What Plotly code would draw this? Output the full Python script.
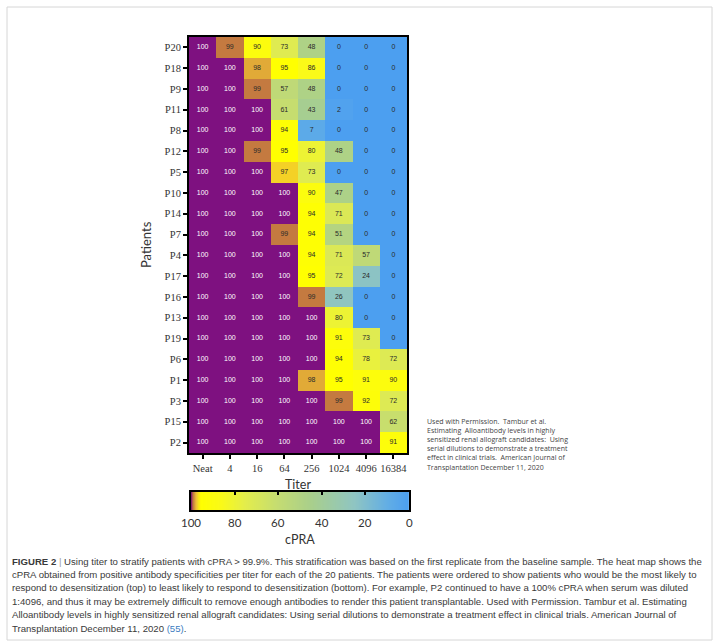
import numpy as np
import plotly.graph_objects as go

W, H = 716, 642

# ---- data -------------------------------------------------------------
titers = ["Neat", "4", "16", "64", "256", "1024", "4096", "16384"]
patients = ["P20", "P18", "P9", "P11", "P8", "P12", "P5", "P10", "P14", "P7",
            "P4", "P17", "P16", "P13", "P19", "P6", "P1", "P3", "P15", "P2"]

# cPRA (%) per titer, one value per patient in the order above
cpra_neat = [100, 100, 100, 100, 100, 100, 100, 100, 100, 100,
             100, 100, 100, 100, 100, 100, 100, 100, 100, 100]
cpra_4 = [99, 100, 100, 100, 100, 100, 100, 100, 100, 100,
          100, 100, 100, 100, 100, 100, 100, 100, 100, 100]
cpra_16 = [90, 98, 99, 100, 100, 99, 100, 100, 100, 100,
           100, 100, 100, 100, 100, 100, 100, 100, 100, 100]
cpra_64 = [73, 95, 57, 61, 94, 95, 97, 100, 100, 99,
           100, 100, 100, 100, 100, 100, 100, 100, 100, 100]
cpra_256 = [48, 86, 48, 43, 7, 80, 73, 90, 94, 94,
            94, 95, 99, 100, 100, 100, 98, 100, 100, 100]
cpra_1024 = [0, 0, 0, 2, 0, 48, 0, 47, 71, 51,
             71, 72, 26, 80, 91, 94, 95, 99, 100, 100]
cpra_4096 = [0, 0, 0, 0, 0, 0, 0, 0, 0, 0,
             57, 24, 0, 0, 73, 78, 91, 92, 100, 100]
cpra_16384 = [0, 0, 0, 0, 0, 0, 0, 0, 0, 0,
              0, 0, 0, 0, 0, 72, 90, 72, 62, 91]

colorbar_ticks = [100, 80, 60, 40, 20, 0]

permission_lines = [
    "Used with Permission.  Tambur et al.",
    "Estimating  Alloantibody levels in highly",
    "sensitized renal allograft candidates:  Using",
    "serial dilutions to demonstrate a treatment",
    "effect in clinical trials.  American Journal of",
    "Transplantation December 11, 2020",
]

caption_lines = [
    "<b>FIGURE 2</b> <span style='color:#999'>|</span> Using titer to stratify patients with cPRA &gt; 99.9%. "
    "This stratification was based on the first replicate from the baseline sample. The heat map shows the",
    "cPRA obtained from positive antibody specificities per titer for each of the 20 patients. "
    "The patients were ordered to show patients who would be the most likely to",
    "respond to desensitization (top) to least likely to respond to desensitization (bottom). "
    "For example, P2 continued to have a 100% cPRA when serum was diluted",
    "1:4096, and thus it may be extremely difficult to remove enough antibodies to render this "
    "patient transplantable. Used with Permission. Tambur et al. Estimating",
    "Alloantibody levels in highly sensitized renal allograft candidates: Using serial dilutions "
    "to demonstrate a treatment effect in clinical trials. American Journal of",
    "Transplantation December 11, 2020 <span style='color:#3a7bbf'>(55)</span>.",
]

# ---- helpers ----------------------------------------------------------
def px_x(x):
    return x / W


def px_y(y):
    return 1 - y / H


z = np.column_stack([cpra_neat, cpra_4, cpra_16, cpra_64,
                     cpra_256, cpra_1024, cpra_4096, cpra_16384])

colorscale = [
    [0.00, "#4c9ff0"],
    [0.10, "#63aee4"],
    [0.25, "#8fc5c2"],
    [0.45, "#a9cf8b"],
    [0.60, "#c4dc72"],
    [0.75, "#e3ed4c"],
    [0.86, "#fafa18"],
    [0.955, "#ffff00"],
    [0.975, "#f0c232"],
    [0.99, "#c47a40"],
    [0.997, "#8a2a62"],
    [1.00, "#7e1180"],
]

SERIF = "Liberation Serif"
SANS = "Lato"
TXT = "#333333"

fig = go.Figure()

# heat map of cPRA per patient and titer
fig.add_trace(go.Heatmap(
    z=z, x=titers, y=patients,
    colorscale=colorscale, zmin=0, zmax=100,
    showscale=False, hoverinfo="skip",
    xaxis="x", yaxis="y",
))

# value printed inside every cell
xs, ys, labels, colors = [], [], [], []
for i, p in enumerate(patients):
    for j, t in enumerate(titers):
        v = int(z[i, j])
        xs.append(t)
        ys.append(p)
        labels.append(str(v))
        colors.append("#ffffff" if v >= 100 else "#2a2a2a")
fig.add_trace(go.Scatter(
    x=xs, y=ys, text=labels, mode="text",
    textposition="middle center",
    textfont=dict(family="Liberation Sans", size=7, color=colors),
    hoverinfo="skip", showlegend=False,
    xaxis="x", yaxis="y",
))

# horizontal colour key, 100 on the left and 0 on the right
scale_steps = np.linspace(0, 100, 801)
fig.add_trace(go.Heatmap(
    z=[scale_steps], x=scale_steps, y=[0],
    colorscale=colorscale, zmin=0, zmax=100,
    showscale=False, hoverinfo="skip",
    xaxis="x2", yaxis="y2",
))

axis_common = dict(
    showgrid=False, zeroline=False, showline=True, mirror=True,
    linecolor="black", linewidth=2, ticks="outside", ticklen=4,
    tickwidth=2, tickcolor="black", fixedrange=True, automargin=False,
)

fig.update_layout(
    template="none",
    width=W, height=H, autosize=False,
    margin=dict(l=0, r=0, t=0, b=0, pad=0),
    paper_bgcolor="white", plot_bgcolor="white",
    showlegend=False,
    xaxis=dict(
        domain=[px_x(189), px_x(407)], anchor="y", type="category",
        categoryorder="array", categoryarray=titers, tickangle=0,
        range=[-0.5, len(titers) - 0.5],
        tickfont=dict(family=SERIF, size=10.5, color=TXT),
        **axis_common,
    ),
    yaxis=dict(
        domain=[px_y(453), px_y(37)], anchor="x", type="category",
        categoryorder="array", categoryarray=patients,
        range=[len(patients) - 0.5, -0.5],
        tickfont=dict(family=SERIF, size=10.5, color=TXT),
        **axis_common,
    ),
    xaxis2=dict(
        domain=[px_x(191), px_x(409)], anchor="y2", range=[100, 0],
        side="top", tickvals=colorbar_ticks, ticks="inside", ticklen=3,
        tickwidth=1.5, tickcolor="black", showticklabels=False,
        showline=True, linecolor="black", linewidth=1.5, mirror=True,
        showgrid=False, zeroline=False, fixedrange=True, automargin=False,
    ),
    yaxis2=dict(
        domain=[px_y(510), px_y(492)], anchor="x2", range=[-0.5, 0.5],
        showticklabels=False, ticks="", showline=True, linecolor="black",
        linewidth=1.5, mirror=True, showgrid=False, zeroline=False,
        fixedrange=True, automargin=False,
    ),
)

CENTER = dict(xanchor="center", yanchor="middle", showarrow=False)

annotations = [
    dict(text="Titer", x=px_x(298), y=px_y(484), xref="paper", yref="paper",
         font=dict(family=SANS, size=12.5, color=TXT), **CENTER),
    dict(text="Patients", x=px_x(146), y=px_y(245), xref="paper", yref="paper",
         textangle=-90, font=dict(family=SANS, size=13, color=TXT), **CENTER),
    dict(text="cPRA", x=px_x(300), y=px_y(539), xref="paper", yref="paper",
         font=dict(family=SANS, size=12.5, color=TXT), **CENTER),
]

# colour-key tick labels, placed on the key's own axis
for v in colorbar_ticks:
    annotations.append(dict(
        text=str(v), x=v, xref="x2", y=px_y(522), yref="paper",
        font=dict(family=SANS, size=11.5, color=TXT), **CENTER,
    ))

# permission note beside the key
annotations.append(dict(
    text="<br>".join(permission_lines), x=px_x(425), y=px_y(415),
    xref="paper", yref="paper", xanchor="left", yanchor="top", align="left",
    showarrow=False, font=dict(family="Open Sans", size=7, color="#444444"),
))

for k, line in enumerate(caption_lines):
    annotations.append(dict(
        text=line, x=px_x(10), y=px_y(561 + 13.4 * k), xref="paper", yref="paper",
        xanchor="left", yanchor="middle", showarrow=False,
        font=dict(family="Liberation Sans", size=9.6, color="#3a3a3a"),
    ))

fig.update_layout(annotations=annotations)

# light frame around the whole figure panel
fig.add_shape(type="rect", xref="paper", yref="paper",
              x0=px_x(7), x1=px_x(712), y0=px_y(640), y1=px_y(7),
              line=dict(color="#d6d6d6", width=1), fillcolor="rgba(0,0,0,0)",
              layer="below")

fig.write_html("out.html")
